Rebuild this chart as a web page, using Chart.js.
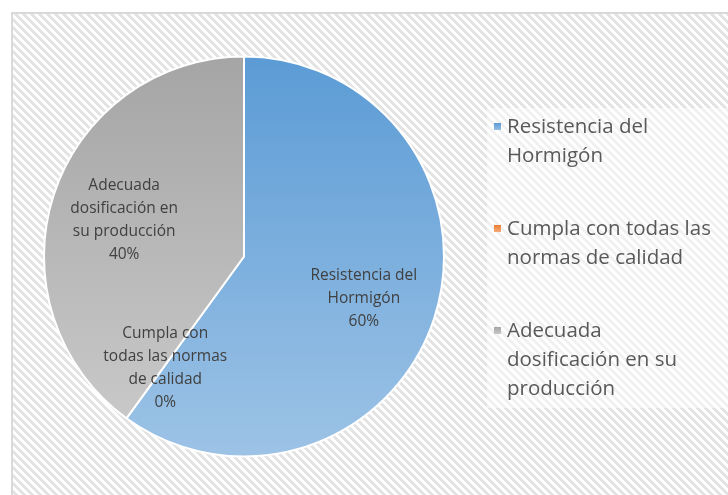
<!DOCTYPE html>
<html lang="es">
<head>
<meta charset="UTF-8">
<title>Factores de calidad</title>
<script src="https://cdn.jsdelivr.net/npm/chart.js"></script>
<style>
  html, body { margin: 0; padding: 0; background: #fff; }
  #wrap { position: relative; width: 728px; height: 495px; }
</style>
</head>
<body>
<div id="wrap"><canvas id="chart" width="728" height="495"></canvas></div>
<script>
const categories = ['Resistencia del Hormigón', 'Cumpla con todas las normas de calidad', 'Adecuada dosificación en su producción'];
const values = [60, 0, 40];
// how each name breaks in the legend and inside the pie
const legendLines = [['Resistencia del', 'Hormigón'], ['Cumpla con todas las', 'normas de calidad'], ['Adecuada', 'dosificación en su', 'producción']];
const sliceLines = [['Resistencia del', 'Hormigón'], ['Cumpla con', 'todas las normas', 'de calidad'], ['Adecuada', 'dosificación en', 'su producción']];
const topColors = ['#5b9bd5', '#ed7d31', '#a5a5a5'];
const bottomColors = ['#9dc3e6', '#f4b183', '#cccccc'];

const FONT = '"Open Sans", "Noto Sans", sans-serif';

// diagonal hatch used by the chart background
function makeHatch() {
    const c = document.createElement('canvas');
    c.width = 8; c.height = 8;
    const g = c.getContext('2d');
    g.fillStyle = '#ffffff';
    g.fillRect(0, 0, 8, 8);
    g.fillStyle = '#e3e3e3';
    for (let y = 0; y < 8; y++) {
        for (let x = 0; x < 8; x++) {
            if (((x - y) % 8 + 8) % 8 < 4) g.fillRect(x, y, 1, 1);
        }
    }
    return c;
}

function sliceGradient(context) {
    const i = context.dataIndex;
    const chart = context.chart;
    const area = chart.chartArea;
    if (!area) return topColors[i];
    const g = chart.ctx.createLinearGradient(0, area.top, 0, area.bottom);
    g.addColorStop(0, topColors[i]);
    g.addColorStop(1, bottomColors[i]);
    return g;
}

const backgroundPlugin = {
    id: 'hatchBackground',
    beforeDraw(chart) {
        const ctx = chart.ctx;
        ctx.save();
        ctx.fillStyle = '#ffffff';
        ctx.fillRect(0, 0, chart.width, chart.height);
        ctx.fillStyle = ctx.createPattern(makeHatch(), 'repeat');
        ctx.fillRect(12, 13, chart.width - 12, chart.height - 13);
        ctx.strokeStyle = '#d9d9d9';
        ctx.lineWidth = 2;
        ctx.strokeRect(12, 13, chart.width + 10, chart.height + 10);
        // legend box
        ctx.fillStyle = 'rgba(255,255,255,0.5)';
        ctx.fillRect(487, 108, chart.width - 487, 300);
        ctx.restore();
    }
};

const sliceLabelPlugin = {
    id: 'sliceLabels',
    afterDatasetsDraw(chart) {
        const ctx = chart.ctx;
        const meta = chart.getDatasetMeta(0);
        const total = values.reduce((a, b) => a + b, 0);
        ctx.save();
        ctx.font = '15.5px ' + FONT;
        ctx.fillStyle = '#404040';
        ctx.textAlign = 'center';
        ctx.textBaseline = 'middle';
        const lh = 23;
        meta.data.forEach((arc, i) => {
            const p = arc.getProps(['x', 'y', 'startAngle', 'endAngle', 'outerRadius']);
            const mid = (p.startAngle + p.endAngle) / 2;
            const r = p.outerRadius * (values[i] === 0 ? 0.67 : 0.63);
            const cx = p.x + Math.cos(mid) * r;
            const cy = p.y + Math.sin(mid) * r + 3;
            const lines = sliceLines[i].concat([Math.round(values[i] / total * 100) + '%']);
            const y0 = cy - (lines.length - 1) * lh / 2;
            lines.forEach((t, k) => ctx.fillText(t, cx, y0 + k * lh));
        });
        ctx.restore();
    }
};

const legendPlugin = {
    id: 'sideLegend',
    afterDraw(chart) {
        const ctx = chart.ctx;
        ctx.save();
        ctx.font = '20.5px ' + FONT;
        ctx.textAlign = 'left';
        ctx.textBaseline = 'middle';
        const lh = 29;
        let y = 127;
        categories.forEach((name, i) => {
            const g = ctx.createLinearGradient(0, y - 4, 0, y + 4);
            g.addColorStop(0, topColors[i]);
            g.addColorStop(1, bottomColors[i]);
            ctx.fillStyle = g;
            ctx.fillRect(494, y - 4, 7, 7);
            ctx.fillStyle = '#595959';
            legendLines[i].forEach((t, k) => ctx.fillText(t, 507, y + k * lh));
            y += legendLines[i].length * lh + 44;
        });
        ctx.restore();
    }
};

new Chart(document.getElementById('chart'), {
    type: 'pie',
    data: {
        labels: categories,
        datasets: [{
            data: values,
            backgroundColor: sliceGradient,
            borderColor: '#ffffff',
            borderWidth: 2
        }]
    },
    options: {
        responsive: false,
        animation: false,
        events: [],
        layout: { padding: { left: 43, top: 55.5, right: 283, bottom: 37.5 } },
        plugins: { legend: { display: false }, tooltip: { enabled: false } }
    },
    plugins: [backgroundPlugin, sliceLabelPlugin, legendPlugin]
});
</script>
</body>
</html>
